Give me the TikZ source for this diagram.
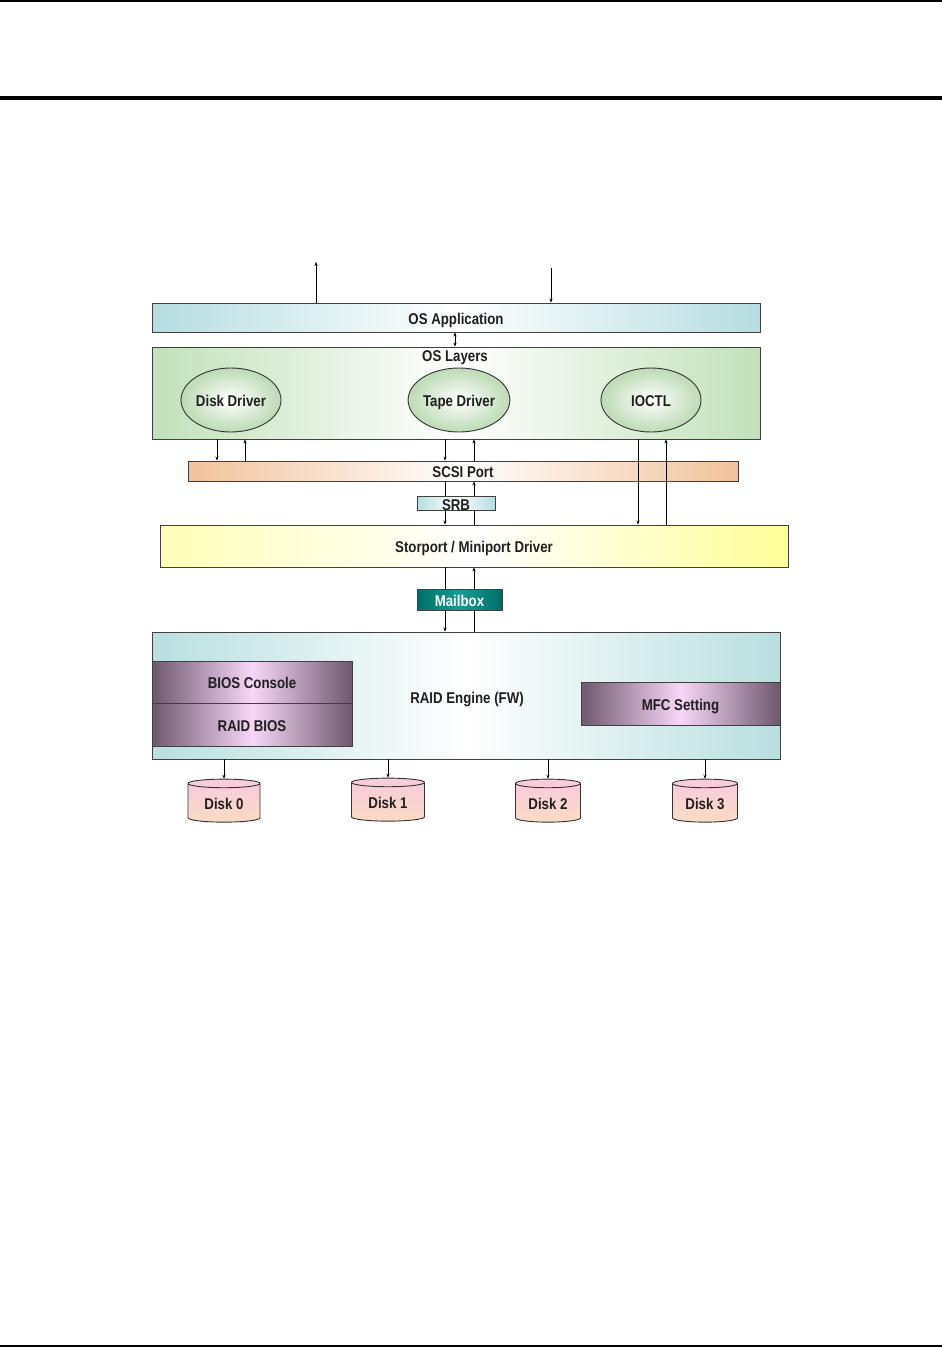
\documentclass[tikz,border=0pt]{standalone}
\usepackage{fontspec}
\setmainfont[FakeStretch=0.85,BoldFont={Liberation Sans Bold},BoldFeatures={FakeStretch=0.85}]{Liberation Sans}
\usetikzlibrary{shapes.geometric,arrows.meta,calc}
\definecolor{appblue}{HTML}{B5DDE1}
\definecolor{laygreen}{HTML}{C2E1BA}
\definecolor{scsiorange}{HTML}{F2C29A}
\definecolor{storyellow}{HTML}{FFFF99}
\definecolor{teald}{HTML}{006E68}
\definecolor{teall}{HTML}{159C92}
\definecolor{raidblue}{HTML}{B9DFE0}
\definecolor{purd}{HTML}{6E586E}
\definecolor{purl}{HTML}{F7D7F7}
\definecolor{diskpink}{HTML}{F9CADF}
\definecolor{diskyel}{HTML}{FAF0A0}
\tikzset{
  fnt/.style={font=\fontsize{15.6}{17}\selectfont\bfseries, text=black!88, text height=13.2pt, text depth=0pt},
  bar/.style={draw=black!75, line width=0.9pt, inner sep=0pt, fnt},
  bluebar/.style={bar, left color=appblue, right color=appblue, middle color=white},
  greenbar/.style={bar, left color=laygreen, right color=laygreen, middle color=white},
  orangebar/.style={bar, left color=scsiorange, right color=scsiorange, middle color=white},
  yellowbar/.style={bar, left color=storyellow!70, right color=storyellow, middle color=white},
  purplebar/.style={bar, left color=purd, right color=purd, middle color=purl},
  drv/.style={ellipse, draw=black!80, line width=0.9pt, minimum width=100pt, minimum height=64pt, inner sep=0pt,
     inner color=white, outer color=laygreen!97!black, fnt},
  disk/.style={cylinder, shape border rotate=90, aspect=0.22, draw=black!80, line width=0.9pt,
     minimum height=43pt, inner sep=0pt, top color=diskpink, bottom color=diskpink!55!diskyel, fnt},
  arr/.style={line width=0.9pt, -{Stealth[length=4pt,width=3.2pt]}},
  darr/.style={line width=0.9pt, {Stealth[length=4pt,width=3.2pt]}-{Stealth[length=4pt,width=3.2pt]}},
  txt/.style={inner sep=0pt, fnt}
}
\begin{document}
\begin{tikzpicture}[x=1pt,y=-1pt]
\useasboundingbox (0,0) rectangle (942,1347);
% page rules
\draw[line width=1.2pt] (0,1) -- (942,1);
\draw[line width=3.5pt] (0,98) -- (942,98);
\draw[line width=1.6pt] (0,1346) -- (942,1346);

% boxes
\node[bluebar, minimum width=608pt, minimum height=29pt] (app) at (456,317.5) {OS Application};
\node[greenbar, minimum width=608pt, minimum height=92pt] (osl) at (456,393) {};
\node[txt] (osltxt) at (455,355) {OS Layers};
\node[drv] (dd) at (231,400) {Disk Driver};
\node[drv] (td) at (459,400) {Tape Driver};
\node[drv] (io) at (651,400) {IOCTL};
\node[orangebar, minimum width=550pt, minimum height=20pt] (scsi) at (463,471) {SCSI Port};
\node[yellowbar, minimum width=628pt, minimum height=42pt] (stor) at (474,546) {Storport / Miniport Driver};
\node[bar, left color=raidblue, right color=raidblue, middle color=white, minimum width=628pt, minimum height=127pt] (raid) at (466,695.5) {};
\node[txt] (raidtxt) at (467,697) {RAID Engine (FW)};

% x positions of connectors
\coordinate (xa) at (217,0);
\coordinate (xb) at (245,0);
\coordinate (xc) at (445,0);
\coordinate (xd) at (474,0);
\coordinate (xe) at (638,0);
\coordinate (xf) at (666,0);
\coordinate (xm) at (455,0);
\coordinate (top1) at (316,262);
\coordinate (top2) at (551,268);

% connectors
\draw[arr] (app.north -| top1) -- (top1);
\draw[arr] (top2) -- (app.north -| top2);
\draw[darr] (app.south -| xm) -- (osl.north -| xm);
\draw[arr] (osl.south -| xa) -- (scsi.north -| xa);
\draw[arr] (scsi.north -| xb) -- (osl.south -| xb);
\draw[arr] (osl.south -| xc) -- (scsi.north -| xc);
\draw[arr] (scsi.north -| xd) -- (osl.south -| xd);
\draw[arr] (osl.south -| xe) -- (stor.north -| xe);
\draw[arr] (stor.north -| xf) -- (osl.south -| xf);
\draw[arr] (scsi.south -| xc) -- (stor.north -| xc);
\draw[arr] (stor.north -| xd) -- (scsi.south -| xd);
\draw[arr] (stor.south -| xc) -- (raid.north -| xc);
\draw[arr] (raid.north -| xd) -- (stor.south -| xd);

% small boxes on top of lines
\node[bar, left color=appblue, right color=appblue, middle color=white, minimum width=78pt, minimum height=13pt] (srb) at (456,503.5) {};
\node[txt] (srbtxt) at (456,504) {SRB};
\node[bar, left color=teald, right color=teald, middle color=teall, minimum width=85pt, minimum height=21pt, text=white] (mail) at (459.5,599.5) {Mailbox};

\node[purplebar, minimum width=200pt, minimum height=42pt] (bc) at (252,682) {BIOS Console};
\node[purplebar, minimum width=200pt, minimum height=43pt] (rb) at (252,724.5) {RAID BIOS};
\node[purplebar, minimum width=199pt, minimum height=43pt] (mfc) at (680.5,703.5) {MFC Setting};

% disks
\node[disk, minimum width=72pt] (d0) at (224,803) {Disk 0};
\node[disk, minimum width=73pt] (d1) at (388,802) {Disk 1};
\node[disk, minimum width=65pt] (d2) at (548,803) {Disk 2};
\node[disk, minimum width=65pt] (d3) at (705,803) {Disk 3};
\draw[arr] (raid.south -| d0.top) -- (d0.top);
\draw[arr] (raid.south -| d1.top) -- (d1.top);
\draw[arr] (raid.south -| d2.top) -- (d2.top);
\draw[arr] (raid.south -| d3.top) -- (d3.top);
\end{tikzpicture}
\end{document}
